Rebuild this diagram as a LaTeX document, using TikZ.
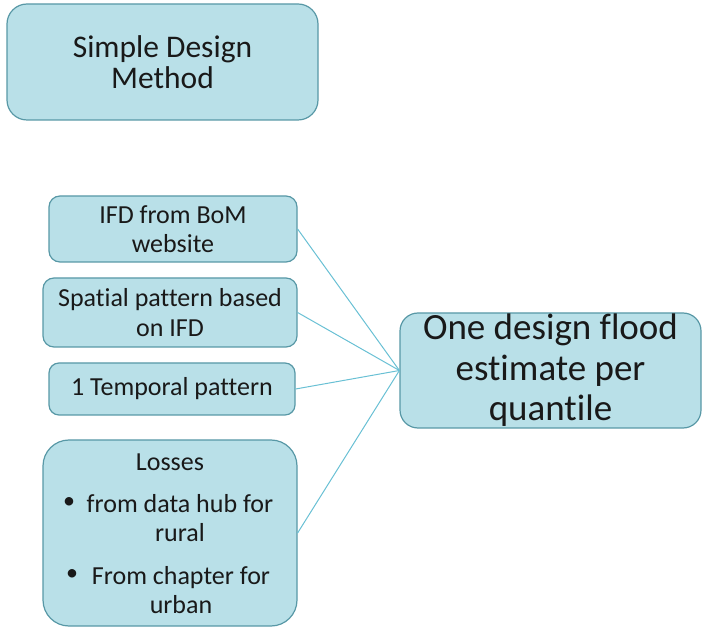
\documentclass[tikz,border=0pt]{standalone}
\usepackage{fontspec}
\setmainfont[Ligatures=NoCommon]{Carlito}
\definecolor{boxfill}{RGB}{185,224,232}
\definecolor{boxline}{RGB}{88,152,166}
\definecolor{connc}{RGB}{105,192,212}
\definecolor{txt}{RGB}{25,25,25}
\begin{document}
\begin{tikzpicture}[x=1pt,y=-1pt,
  box/.style={draw=boxline, line width=1.2pt, fill=boxfill, rounded corners=#1, inner sep=0pt, text=txt, align=center},
  lbl/.style={inner sep=0pt, text=txt, align=center},
  conn/.style={draw=connc, line width=1pt}]
\useasboundingbox (0,0) rectangle (702,628);
\node[box=20pt, minimum width=311pt, minimum height=116pt, font=\fontsize{31.5}{31}\selectfont] (sdm) at (162.5,62) {Simple Design\\Method};
\node[box=11pt, minimum width=248pt, minimum height=66pt, font=\fontsize{26}{29}\selectfont] (ifd) at (173,229) {IFD from BoM\\website};
\node[box=11pt, minimum width=254pt, minimum height=69pt, font=\fontsize{26}{30}\selectfont] (spa) at (170,312.5) {Spatial pattern based\\on IFD};
\node[box=10pt, minimum width=246pt, minimum height=52pt, font=\fontsize{26}{29}\selectfont] (tem) at (172,389) {1 Temporal pattern};
\node[box=26pt, minimum width=254pt, minimum height=186pt] (los) at (170,533) {};
\node[lbl, font=\fontsize{26}{29}\selectfont] (losh) at (170,462) {Losses};
\node[lbl, font=\fontsize{24}{29}\selectfont] (b1) at (69,503) {\textbullet};
\node[lbl, font=\fontsize{26}{29}\selectfont] (i1) at (180,518.5) {from data hub for\\rural};
\node[lbl, font=\fontsize{24}{29}\selectfont] (b2) at (72,575) {\textbullet};
\node[lbl, font=\fontsize{26}{29}\selectfont] (i2) at (181,590) {From chapter for\\urban};
\node[box=18pt, minimum width=301pt, minimum height=115pt, font=\fontsize{37}{40.5}\selectfont] (out) at (550.5,370.5) {One design flood\\estimate per\\quantile};
\draw[conn] (ifd.east) -- (out.west);
\draw[conn] (spa.east) -- (out.west);
\draw[conn] (tem.east) -- (out.west);
\draw[conn] (los.east) -- (out.west);
\end{tikzpicture}
\end{document}
